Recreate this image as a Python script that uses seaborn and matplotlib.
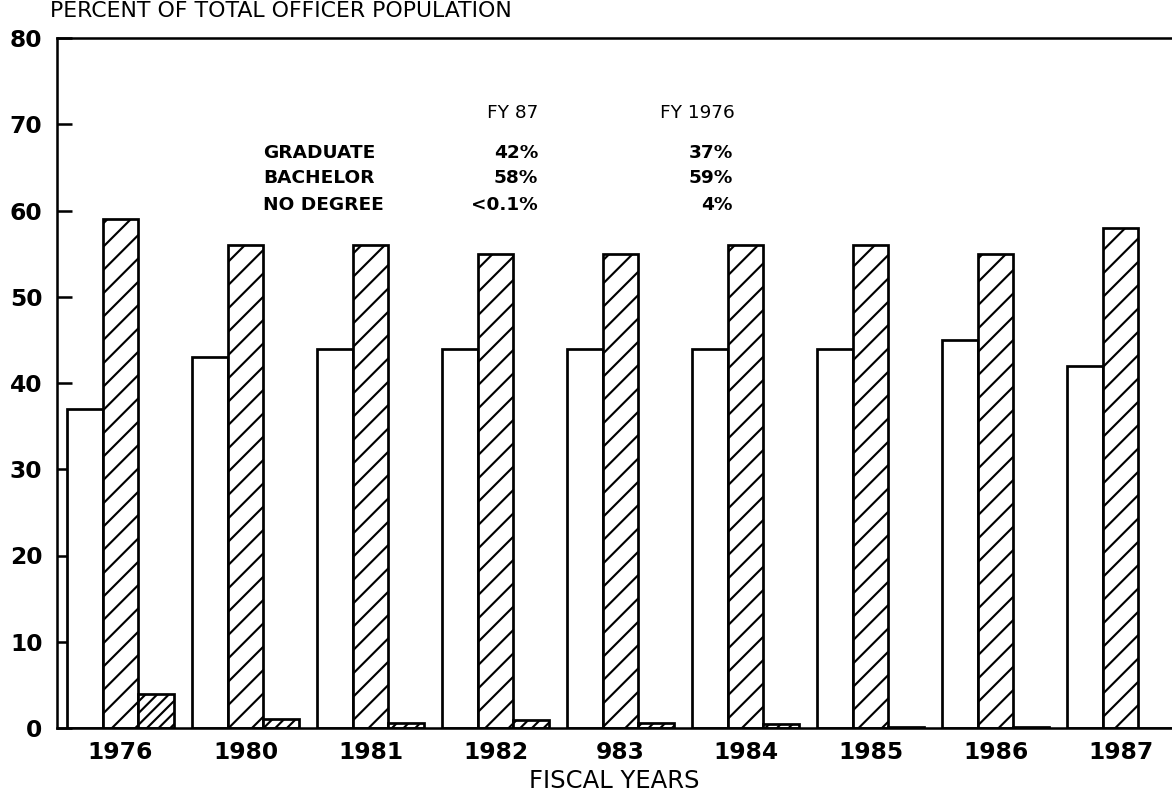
import numpy as np
import pandas as pd
import matplotlib
matplotlib.use("Agg")
import matplotlib.pyplot as plt
import seaborn as sns

# datos
years = ["1976", "1980", "1981", "1982", "983", "1984", "1985", "1986", "1987"]
graduate = [37, 43, 44, 44, 44, 44, 44, 45, 42]
bachelor = [59, 56, 56, 55, 55, 56, 56, 55, 58]
no_degree = [4, 1, 0.6, 0.9, 0.6, 0.5, 0.15, 0.1, 0.05]
degrees = ["GRADUATE", "BACHELOR", "NO DEGREE"]

table_rows = ["GRADUATE", "BACHELOR", "NO DEGREE"]
fy87 = ["42%", "58%", "<0.1%"]
fy76 = ["37%", "59%", "4%"]

df = pd.DataFrame({
    "year": years * 3,
    "pct": graduate + bachelor + no_degree,
    "degree": [d for d in degrees for _ in years],
})

sns.set_style("ticks")
plt.rcParams["font.family"] = ["DejaVu Sans"]
plt.rcParams["hatch.linewidth"] = 1.1
plt.rcParams["hatch.color"] = "black"
for k in ["text.color", "axes.labelcolor", "xtick.color", "ytick.color"]:
    plt.rcParams[k] = "black"

W, H, DPI = 1172, 793, 140
fig = plt.figure(figsize=(W / DPI, H / DPI), dpi=DPI)
ax = fig.add_axes([57 / W, 65 / H, 1115 / W, 690 / H])

sns.barplot(data=df, x="year", y="pct", hue="degree", order=years,
            hue_order=degrees, palette=["white"] * 3, edgecolor="black",
            linewidth=1.4, width=0.852, legend=False, ax=ax)

# blanco, rayado y rayado denso
for cont, hatch in zip(ax.containers, ["", "//", "////"]):
    for bar in cont:
        bar.set_hatch(hatch)

ax.set_xlim(-0.508, 8.41)
ax.set_ylim(0, 80)
ax.set_yticks(range(0, 81, 10))
ax.tick_params(axis="y", direction="in", length=7.5, width=1.3, pad=7.5,
               labelsize=12)
ax.tick_params(axis="x", length=0, pad=6.5, labelsize=12)
for lab in ax.get_xticklabels() + ax.get_yticklabels():
    lab.set_fontweight("bold")

for s in ["left", "bottom", "top"]:
    ax.spines[s].set_linewidth(1.3)
    ax.spines[s].set_color("black")
ax.spines["right"].set_visible(False)

ax.set_xlabel("FISCAL YEARS", fontsize=12.5, labelpad=3)
ax.set_ylabel("")

fig.text(50 / W, 1 - 11 / H, "PERCENT OF TOTAL OFFICER POPULATION",
         fontsize=11.3, ha="left", va="center")

# tabla de texto
row_y = [0.833, 0.797, 0.758]
for name, a, b, y in zip(table_rows, fy87, fy76, row_y):
    ax.text(0.1848, y, name, transform=ax.transAxes, fontsize=9.5,
            fontweight="bold", ha="left", va="center")
    ax.text(0.4314, y, a, transform=ax.transAxes, fontsize=9.5,
            fontweight="bold", ha="right", va="center")
    ax.text(0.606, y, b, transform=ax.transAxes, fontsize=9.5,
            fontweight="bold", ha="right", va="center")
ax.text(0.4314, 0.891, "FY 87", transform=ax.transAxes, fontsize=9.5,
        ha="right", va="center")
ax.text(0.541, 0.891, "FY 1976", transform=ax.transAxes, fontsize=9.5,
        ha="left", va="center")

fig.savefig("out.png", dpi=DPI)
